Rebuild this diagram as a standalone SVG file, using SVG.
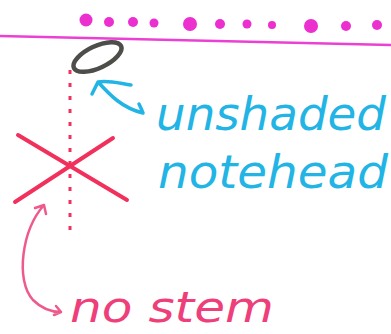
<svg xmlns="http://www.w3.org/2000/svg" width="391" height="334" viewBox="0 0 391 334">
<style>
.dot{fill:#ec2fcf}
.staff{stroke:#ec3fd4;stroke-width:2.5;fill:none;stroke-linecap:round}
.redx{stroke:#f2305c;stroke-width:4;fill:none;stroke-linecap:round}
.stem{stroke:#f2305c;stroke-width:3;fill:none;stroke-dasharray:4 9}
.cyan{stroke:#22b4e4;stroke-width:3.5;fill:none;stroke-linecap:round;stroke-linejoin:round}
.pinkarrow{stroke:#ee5a8c;stroke-width:2.5;fill:none;stroke-linecap:round;stroke-linejoin:round}
.ctext{fill:#22b4e4;font-family:"DejaVu Sans",sans-serif;font-style:italic;font-size:46px}
.ptext{fill:#ee3f7a;font-family:"DejaVu Sans",sans-serif;font-style:italic;font-size:42px}
</style>
<rect width="391" height="334" fill="#ffffff"/>
<g id="staff">
<line class="staff" x1="0" y1="36" x2="391" y2="45"/>
<circle class="dot" cx="86" cy="20" r="6.5"/>
<circle class="dot" cx="109" cy="22" r="5"/>
<circle class="dot" cx="133" cy="22" r="5"/>
<circle class="dot" cx="154" cy="23" r="4.5"/>
<circle class="dot" cx="190" cy="24" r="7"/>
<circle class="dot" cx="220" cy="24" r="5"/>
<circle class="dot" cx="247" cy="24" r="4.5"/>
<circle class="dot" cx="272" cy="25" r="4"/>
<circle class="dot" cx="311" cy="26" r="7"/>
<circle class="dot" cx="346" cy="26" r="5"/>
<circle class="dot" cx="377" cy="25" r="5"/>
</g>
<g id="notehead">
<ellipse cx="97.5" cy="57" rx="26" ry="11" transform="rotate(-25 97.5 57)" fill="none" stroke="#4d4d4a" stroke-width="4.5"/>
</g>
<g id="stem">
<line class="stem" x1="70" y1="70" x2="70" y2="232"/>
</g>
<g id="cross">
<line class="redx" x1="18" y1="135" x2="127" y2="200"/>
<line class="redx" x1="15" y1="202" x2="113" y2="138"/>
</g>
<g id="connectors">
<path class="cyan" d="M131,85 C118,83 108,80 98,82 M98,82 C96,86 94,90 92,94 M98,82 C110,95 122,108 143,113 M143,113 C141,108 140,106 139,104"/>
<path class="pinkarrow" d="M44,205 C22,230 15,280 33,300 C43,310 52,312 61,312 M44,205 L35,208 M44,205 L46,214 M61,312 L56,306 M61,312 L54,315"/>
</g>
<g id="label-notehead">
<text class="ctext" x="156" y="130" textLength="230" lengthAdjust="spacingAndGlyphs">unshaded</text>
<text class="ctext" x="158" y="188" textLength="230" lengthAdjust="spacingAndGlyphs">notehead</text>
</g>
<g id="label-stem">
<text class="ptext" x="70" y="322" textLength="204" lengthAdjust="spacingAndGlyphs">no stem</text>
</g>
</svg>
